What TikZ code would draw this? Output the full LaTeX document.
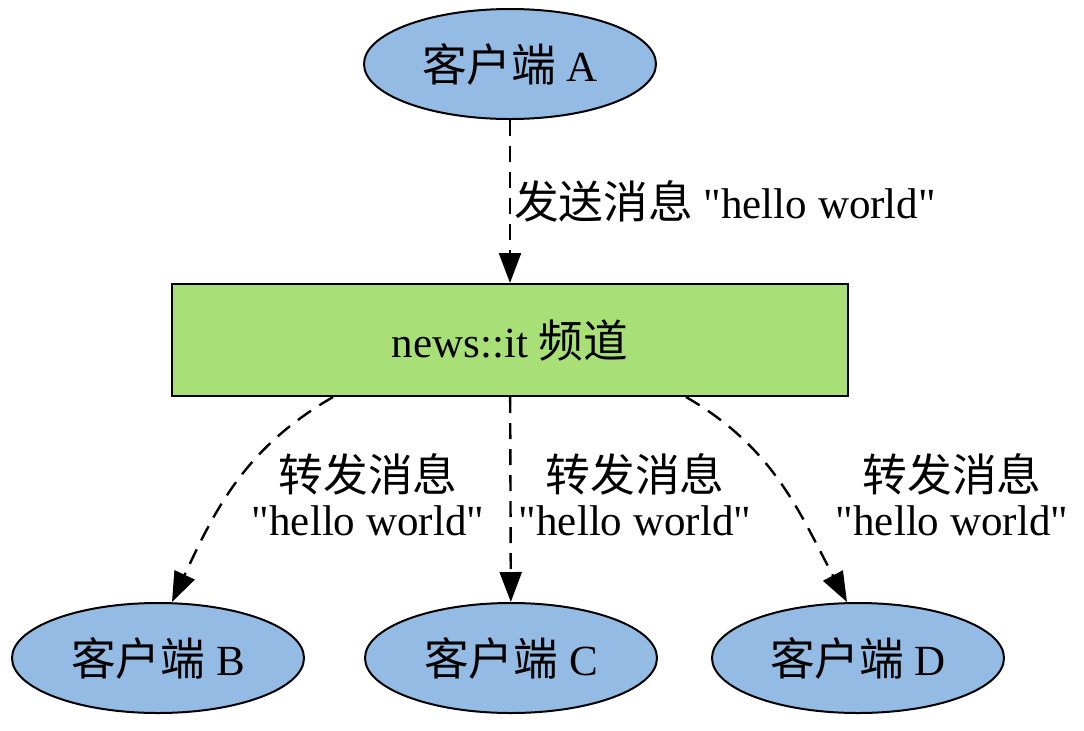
\documentclass[tikz,border=0pt]{standalone}
\usepackage{fontspec}
\setmainfont{Liberation Serif}[Ligatures=TeXOff]
\newfontfamily\cjk{Noto Sans CJK SC}[Scale=1.04]
\usetikzlibrary{shapes.geometric, arrows.meta, positioning}

\definecolor{clientblue}{RGB}{148,187,227}
\definecolor{channelgreen}{RGB}{168,224,119}

\begin{document}
\begin{tikzpicture}[
    x=0.5pt, y=-0.5pt,
    font=\fontsize{21.5}{22}\selectfont,
    client/.style={ellipse, draw=black, line width=1pt, fill=clientblue, minimum width=146pt, minimum height=55pt, inner sep=0pt},
    channel/.style={rectangle, draw=black, line width=1pt, fill=channelgreen, minimum width=338pt, minimum height=56pt},
    arrow/.style={-{Triangle[length=15pt, width=11pt]}, line width=1.2pt, dash pattern=on 8pt off 5pt},
    msg/.style={align=center, inner sep=1.5pt}
]
    \useasboundingbox (0,0) rectangle (1084,730);
    \node[client] (ca) at (510,64) {{\cjk 客户端} A};
    \node[channel] (ch) at (510,340) {news::it {\cjk 频道}};
    \node[client] (cb) at (158,658) {{\cjk 客户端} B};
    \node[client] (cc) at (511,658) {{\cjk 客户端} C};
    \node[client] (cd) at (858,658) {{\cjk 客户端} D};

    \draw[arrow] (ca) -- (ch) node[midway, right, msg] {{\cjk 发送消息} "hello world"};
    \draw[arrow] ([xshift=-88.5pt]ch.south) to[out=210, in=65] ([xshift=7pt]cb.north);
    \draw[arrow] (ch) -- (cc);
    \draw[arrow] ([xshift=88pt]ch.south) to[out=-30, in=118] ([xshift=-5.5pt]cd.north);

    % edge labels
    \node[msg] (lb) at (368,495) {{\cjk 转发消息}\\"hello world"};
    \node[msg] (lc) at (635,495) {{\cjk 转发消息}\\"hello world"};
    \node[msg] (ld) at (952,495) {{\cjk 转发消息}\\"hello world"};
\end{tikzpicture}
\end{document}
